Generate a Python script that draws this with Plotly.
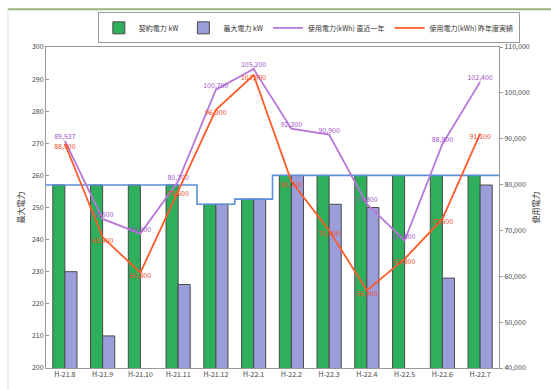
import plotly.graph_objects as go

months = ["H-21.8", "H-21.9", "H-21.10", "H-21.11", "H-21.12", "H-22.1",
          "H-22.2", "H-22.3", "H-22.4", "H-22.5", "H-22.6", "H-22.7"]
contract_kw = [257, 257, 257, 257, 251, 252.6, 260, 260, 260, 260, 260, 260]
max_kw = [230, 210, None, 226, 251, 252.6, 260, 251, 250, None, 228, 257]
usage_recent = [89537, 72500, 69300, 80700, 100700, 105200,
                92200, 90900, 75800, 67800, 88800, 102400]
usage_lastyear = [88900, 68500, 60800, 78600, 96300, 103900,
                  80700, 70000, 56900, 63800, 72500, 91100]

FONT = "Noto Sans CJK JP, Noto Sans, sans-serif"
idx = list(range(len(months)))

fig = go.Figure()
fig.add_trace(go.Bar(
    x=idx, y=contract_kw, name="契約電力 kW",
    marker=dict(color="#2EAF5C", line=dict(color="#4a4a4a", width=1)),
))
fig.add_trace(go.Bar(
    x=idx, y=max_kw, name="最大電力 kW",
    marker=dict(color="#9A9EDA", line=dict(color="#4a4a4a", width=1)),
))

# contract step line
sx, sy = [], []
for i, v in zip(idx, contract_kw):
    sx += [i - 0.5, i + 0.5]
    sy += [v, v]
fig.add_trace(go.Scatter(
    x=sx, y=sy, mode="lines", showlegend=False, hoverinfo="skip",
    line=dict(color="#5B8FD6", width=1.6),
))

fig.add_trace(go.Scatter(
    x=idx, y=usage_recent, yaxis="y2", name="使用電力(kWh) 直近一年",
    mode="lines+text", text=[f"{v:,}" for v in usage_recent],
    textposition="top center",
    textfont=dict(size=7, color="#A050C8", family=FONT),
    line=dict(color="#B877D8", width=1.8),
))
fig.add_trace(go.Scatter(
    x=idx, y=usage_lastyear, yaxis="y2", name="使用電力(kWh) 昨年度実績",
    mode="lines+text", text=[f"{v:,}" for v in usage_lastyear],
    textposition="bottom center",
    textfont=dict(size=7, color="#F04A20", family=FONT),
    line=dict(color="#FF5A28", width=1.8),
))

fig.update_layout(
    width=551, height=390,
    margin=dict(l=46, r=52, t=45, b=22),
    paper_bgcolor="white", plot_bgcolor="white",
    font=dict(family=FONT, size=8, color="#444"),
    barmode="group", bargap=0.36, bargroupgap=0,
    showlegend=True,
    legend=dict(orientation="h", x=1.046, y=1.108, xanchor="right", yanchor="top",
                bordercolor="#999", borderwidth=1, bgcolor="white",
                font=dict(size=7, color="#333"), itemwidth=30,
                tracegroupgap=0),
    xaxis=dict(range=[-0.5, 11.5], tickmode="array", tickvals=idx, ticktext=months,
               showline=True, linecolor="#999", mirror=True,
               ticks="", tickfont=dict(size=7, color="#444"), showgrid=False,
               zeroline=False),
    yaxis=dict(range=[200, 300], dtick=10, showgrid=False, zeroline=False,
               showline=True, linecolor="#999", mirror=True, ticks="inside",
               ticklen=3, tickcolor="#999",
               title=dict(text="最大電力", font=dict(size=8, color="#333"), standoff=6),
               tickfont=dict(size=7, color="#444")),
    yaxis2=dict(range=[40000, 110000], dtick=10000, overlaying="y", side="right",
                tickformat=",", showgrid=False, zeroline=False,
                ticks="outside", ticklen=3, tickcolor="#999",
                title=dict(text="使用電力", font=dict(size=8, color="#333"), standoff=4),
                tickfont=dict(size=7, color="#444")),
    shapes=[
        dict(type="line", xref="paper", yref="paper", x0=-0.084, x1=1.12,
             y0=1.1176, y1=1.1176, line=dict(color="#9BB27A", width=2)),
        dict(type="line", xref="paper", yref="paper", x0=-0.084, x1=-0.084,
             y0=1.1176, y1=-0.07, line=dict(color="#DDDDDD", width=1)),
    ],
)

fig.write_html("out.html")
